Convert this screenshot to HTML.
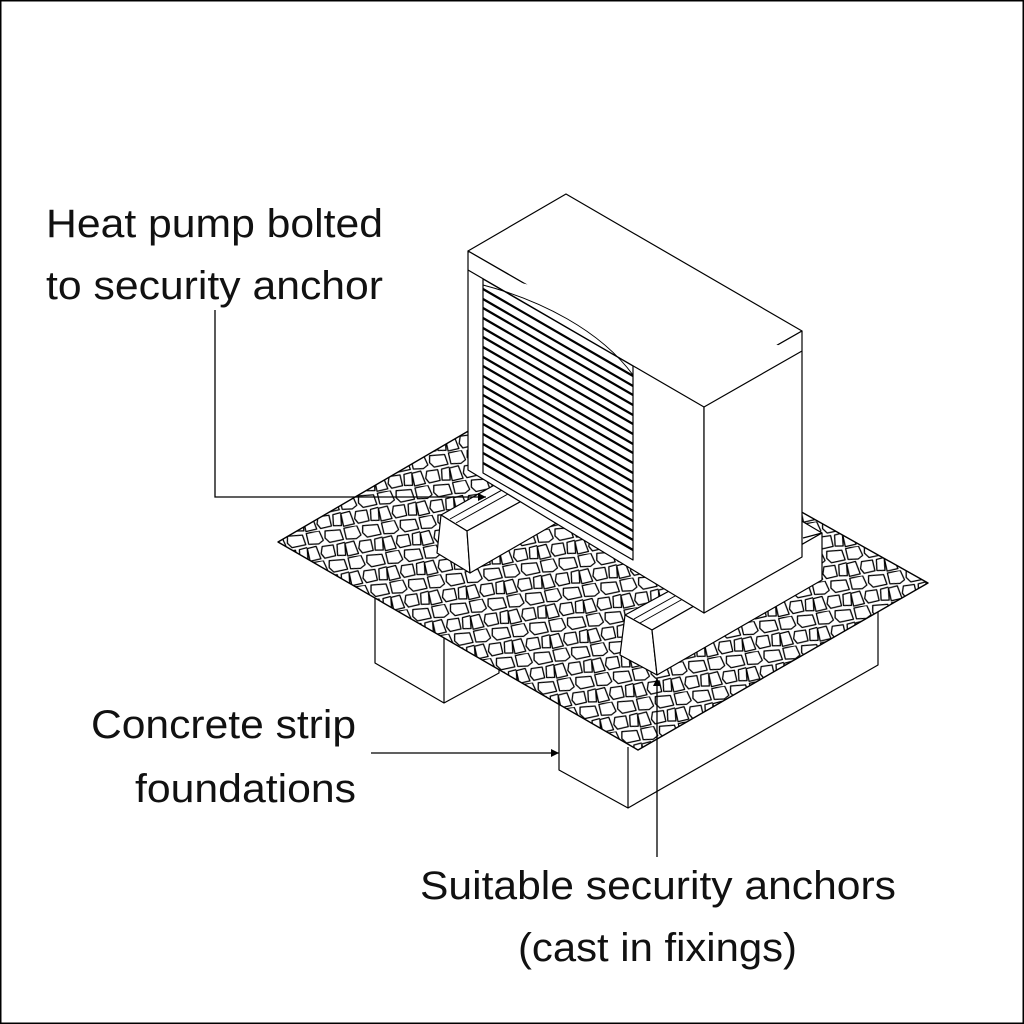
<!DOCTYPE html>
<html><head><meta charset="utf-8"><style>
html,body{margin:0;padding:0;background:#fff;}
svg{display:block;}
text{font-family:"Liberation Sans",sans-serif;font-size:40px;fill:#111;}
</style></head><body>
<svg width="1024" height="1024" viewBox="0 0 1024 1024" xmlns="http://www.w3.org/2000/svg">
<defs>
<pattern id="st" patternUnits="userSpaceOnUse" width="38" height="30" patternTransform="rotate(-8)">
<rect width="38" height="30" fill="#fff"/>
<g fill="#fff" stroke="#000" stroke-width="1.3" stroke-linejoin="round">
<path d="M1,1 L14,0 L17,10 L12,13 L2,12 Z"/>
<path d="M20,1 L35,2 L37,12 L23,13 L19,8 Z"/>
<path d="M0,16 L9,15 L12,28 L1,29 Z"/>
<path d="M15,16 L26,16 L27,27 L16,28 L13,23 Z"/>
<path d="M30,16 L38,15 L37,28 L29,27 Z"/>
</g>
</pattern>
<marker id="ah" viewBox="0 0 10 10" refX="10" refY="5" markerWidth="14" markerHeight="8" markerUnits="userSpaceOnUse" orient="auto">
<path d="M0,0 L10,5 L0,10 Z" fill="#000"/>
</marker>
</defs>
<rect x="0.5" y="0.5" width="1023" height="1023" fill="#fff" stroke="#000" stroke-width="2"/>

<g fill="#fff" stroke="#000" stroke-width="1.2" stroke-linejoin="round">
<path d="M375,597 L375,663 L444,703 L499,673 L499,600 Z"/>
<path d="M444,638 L444,703"/>
<path d="M559,700 L559,770 L628,808 L878,665 L878,607 L700,600 Z"/>
<path d="M628,747 L628,808"/>
<path d="M278,542 L561,377 L928,583 L638,750 Z" fill="url(#st)" stroke-width="1.4"/>
<path d="M441,515 L467,531 L560,480 L530,465 Z"/>
<path d="M441,515 L467,531 L470,573 L437,553 Z"/>
<path d="M467,531 L470,573 L560,521 L560,480 Z"/>
<path d="M450,519 L520,480 M456,523 L526,484" stroke-width="1"/>
<path d="M625,615 L652,630 L822,533 L800,520 Z"/>
<path d="M625,615 L652,630 L657,675 L620,655 Z"/>
<path d="M652,630 L657,675 L822,580 L822,533 Z"/>
<path d="M803,538 L822,533"/>
<path d="M634,619 L700,582 M640,623 L706,586" stroke-width="1"/>
<path d="M468,251 L566,194 L802,331 L704,387 Z"/>
<path d="M468,251 L704,387 L704,613 L468,470 Z"/>
<path d="M704,387 L802,331 L802,557 L704,613 Z"/>
<path d="M468,270 L704,407 L802,351"/>
<path d="M483,279 L633,366 L633,560 L483,473 Z"/>
<path d="M483,285 C540,300 600,330 633,375" fill="none" stroke-width="1"/>
</g>
<g stroke="#000" stroke-width="2.2" fill="none">
<path d="M483,289 L633,376"/><path d="M483,299 L633,386"/><path d="M483,308 L633,395"/><path d="M483,318 L633,405"/>
<path d="M483,328 L633,415"/><path d="M483,337 L633,424"/><path d="M483,347 L633,434"/><path d="M483,357 L633,444"/>
<path d="M483,366 L633,453"/><path d="M483,376 L633,463"/><path d="M483,386 L633,473"/><path d="M483,395 L633,482"/>
<path d="M483,405 L633,492"/><path d="M483,415 L633,502"/><path d="M483,424 L633,511"/><path d="M483,434 L633,521"/>
<path d="M483,444 L633,531"/><path d="M483,453 L633,540"/><path d="M483,463 L633,550"/>
</g>
<g stroke="#000" stroke-width="1.3" fill="none">
<path d="M215,310 L215,497 L486,497" marker-end="url(#ah)"/>
<path d="M371,753 L559,753" marker-end="url(#ah)"/>
<path d="M657,857 L657,678" marker-end="url(#ah)"/>
</g>
<text x="46" y="237" textLength="337" lengthAdjust="spacingAndGlyphs">Heat pump bolted</text>
<text x="46" y="299" textLength="337" lengthAdjust="spacingAndGlyphs">to security anchor</text>
<text x="91" y="738" textLength="265" lengthAdjust="spacingAndGlyphs">Concrete strip</text>
<text x="135" y="802" textLength="221" lengthAdjust="spacingAndGlyphs">foundations</text>
<text x="420" y="899" textLength="476" lengthAdjust="spacingAndGlyphs">Suitable security anchors</text>
<text x="518" y="961" textLength="279" lengthAdjust="spacingAndGlyphs">(cast in fixings)</text>
</svg>
</body></html>
